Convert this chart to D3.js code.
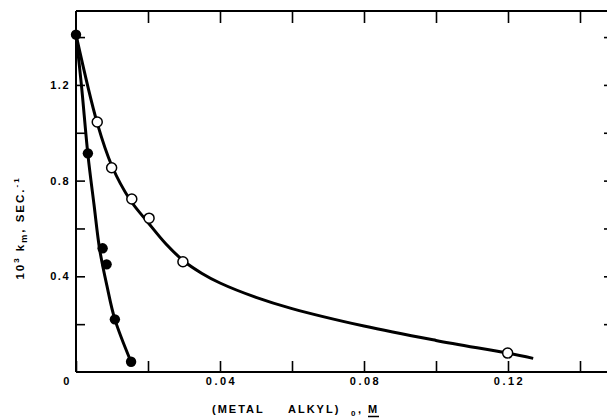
<!DOCTYPE html>
<html><head><meta charset="utf-8">
<script src="https://cdn.jsdelivr.net/npm/d3@7/dist/d3.min.js"></script>
<style>
body{margin:0;background:#fff;}
svg text{font-family:"Liberation Sans",Arial,sans-serif;font-weight:bold;fill:#000;}
</style></head>
<body><svg id="c" width="607" height="420"></svg>
<script>
// Data
const filledX = [0, 0.0033, 0.0074, 0.0085, 0.0108, 0.0153];
const filledY = [1.41, 0.914, 0.517, 0.450, 0.220, 0.043];
const openX = [0.0059, 0.0099, 0.0155, 0.0203, 0.0297, 0.1199];
const openY = [1.045, 0.854, 0.723, 0.643, 0.461, 0.079];
const filledCurveX = [0, 0.0015, 0.0033, 0.005, 0.0066, 0.0086, 0.0108, 0.0153];
const filledCurveY = [1.41, 1.2, 0.91, 0.70, 0.51, 0.36, 0.22, 0.042];
const openCurveX = [0, 0.0059, 0.010, 0.015, 0.020, 0.025, 0.030, 0.035, 0.040, 0.050, 0.060, 0.080, 0.100, 0.120, 0.127];
const openCurveY = [1.41, 1.04, 0.86, 0.72, 0.625, 0.535, 0.463, 0.412, 0.372, 0.312, 0.265, 0.192, 0.132, 0.078, 0.057];
const xTicks = [0, 0.02, 0.04, 0.06, 0.08, 0.10, 0.12, 0.14];
const xTickLabels = {"0":"0", "0.04":"0.04", "0.08":"0.08", "0.12":"0.12"};
const yTicks = [0.2, 0.4, 0.6, 0.8, 1.0, 1.2, 1.4];
const yTickLabels = {"0.4":"0.4", "0.8":"0.8", "1.2":"1.2"};

const svg = d3.select("#c");
const L = 76, R = 607, T = 11, B = 372;
const x = d3.scaleLinear().domain([0, 0.1475]).range([L, R]);
const y = d3.scaleLinear().domain([0, 1.509]).range([B, T]);

// bottom axis
const gb = svg.append("g").attr("transform", `translate(0,${B})`)
  .call(d3.axisBottom(x).tickValues(xTicks).tickSize(-11).tickPadding(5)
    .tickFormat(d => xTickLabels[String(+d.toFixed(2))] || ""));
gb.select(".domain").attr("stroke-width", 2).attr("d", `M${L},0H${R}`);
gb.selectAll(".tick line").attr("stroke-width", 1.6);
gb.selectAll(".tick text").style("font-size", "11px").style("letter-spacing", "2.5px")
  .attr("dx", d => d === 0 ? -9 : 1);

// top axis
const gt = svg.append("g").attr("transform", `translate(0,${T})`)
  .call(d3.axisTop(x).tickValues(xTicks.filter(d => d > 0)).tickSize(-12).tickFormat(""));
gt.select(".domain").attr("stroke-width", 2).attr("d", `M${L},0H${R}`);
gt.selectAll(".tick line").attr("stroke-width", 1.6);

// left axis
const gl = svg.append("g").attr("transform", `translate(${L},0)`)
  .call(d3.axisLeft(y).tickValues(yTicks).tickSize(-9).tickPadding(6)
    .tickFormat(d => yTickLabels[String(+d.toFixed(1))] || ""));
gl.select(".domain").attr("stroke-width", 2).attr("d", `M0,${T}V${B}`);
gl.selectAll(".tick line").attr("stroke-width", 1.6);
gl.selectAll(".tick text").style("font-size", "11px").style("letter-spacing", "1.5px");

// right axis ticks (axis line just off canvas)
const gr = svg.append("g").attr("transform", `translate(${R + 2},0)`)
  .call(d3.axisRight(y).tickValues(yTicks).tickSize(-5).tickFormat(""));
gr.select(".domain").remove();
gr.selectAll(".tick line").attr("stroke-width", 1.6);

// curves
const line = d3.line().x(d => x(d[0])).y(d => y(d[1])).curve(d3.curveCatmullRom.alpha(0.5));
svg.append("path").datum(d3.zip(filledCurveX, filledCurveY)).attr("d", line)
  .attr("fill", "none").attr("stroke", "#000").attr("stroke-width", 3);
svg.append("path").datum(d3.zip(openCurveX, openCurveY)).attr("d", line)
  .attr("fill", "none").attr("stroke", "#000").attr("stroke-width", 3);

// markers
svg.selectAll("circle.f").data(d3.zip(filledX, filledY)).join("circle").attr("class", "f")
  .attr("cx", d => x(d[0])).attr("cy", d => y(d[1])).attr("r", 5.2).attr("fill", "#000");
svg.selectAll("circle.o").data(d3.zip(openX, openY)).join("circle").attr("class", "o")
  .attr("cx", d => x(d[0])).attr("cy", d => y(d[1])).attr("r", 5).attr("fill", "#fff")
  .attr("stroke", "#000").attr("stroke-width", 1.5);

// y label
const yl = svg.append("text").attr("transform", "translate(24,228) rotate(-90)")
  .attr("text-anchor", "middle").style("font-size", "11.5px").style("letter-spacing", "2px");
yl.append("tspan").text("10");
yl.append("tspan").attr("dy", -5).style("font-size", "8px").text("3");
yl.append("tspan").attr("dy", 5).text(" k");
yl.append("tspan").attr("dy", 3).style("font-size", "9px").text("m");
yl.append("tspan").attr("dy", -3).text(",  SEC.");
yl.append("tspan").attr("dy", -5).style("font-size", "8px").text("-1");

// x label
const xl = svg.append("g").style("font-size", "11px").style("letter-spacing", "2px");
xl.append("text").attr("x", 212).attr("y", 413).text("(METAL");
xl.append("text").attr("x", 288).attr("y", 413).text("ALKYL)");
xl.append("text").attr("x", 351).attr("y", 416).style("font-size", "8px").text("0");
xl.append("text").attr("x", 358).attr("y", 413).text(", M");
svg.append("line").attr("x1", 368).attr("x2", 379).attr("y1", 416.5).attr("y2", 416.5)
  .attr("stroke", "#000").attr("stroke-width", 1.5);
</script></body></html>
